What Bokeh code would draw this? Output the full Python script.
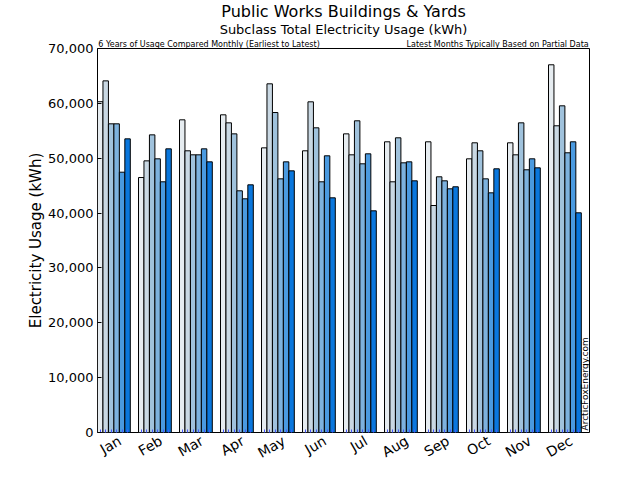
import math
from bokeh.plotting import figure
from bokeh.models import ColumnDataSource, FixedTicker, Label, LinearAxis, NumeralTickFormatter, Range1d, Title
from bokeh.embed import file_html
from bokeh.resources import INLINE

months = ["Jan", "Feb", "Mar", "Apr", "May", "Jun", "Jul", "Aug", "Sep", "Oct", "Nov", "Dec"]
year1 = [60300, 46480, 57000, 57910, 51890, 51350, 54440, 52990, 52990, 49890, 52810, 67030]
year2 = [64100, 49520, 51350, 56450, 63560, 60280, 50620, 45700, 41380, 52810, 50620, 55910]
year3 = [56270, 54260, 50620, 54440, 58330, 55540, 56820, 53720, 46610, 51350, 56450, 59550]
year4 = [56270, 49890, 50620, 44060, 46240, 45700, 48980, 49160, 45880, 46240, 47890, 50990]
year5 = [47450, 45700, 51710, 42600, 49340, 50440, 50800, 49340, 44420, 43690, 49890, 52990]
year6 = [53530, 51710, 49340, 45150, 47700, 42780, 40410, 45880, 44790, 48070, 48250, 40050]
series = [year1, year2, year3, year4, year5, year6]
colors = ["#e6ecf0", "#c9d8e3", "#a0c2dc", "#7db2de", "#4a9ae0", "#0a77dd"]
note_left = "6 Years of Usage Compared Monthly (Earliest to Latest)"
note_right = "Latest Months Typically Based on Partial Data"

FONT = "DejaVu Sans"
W, H = 640, 480
FL, FR, FT, FB = 97, 589, 48, 432  # frame edges in page pixels
p = figure(width=W, height=H, output_backend="svg", toolbar_location=None,
           x_range=Range1d(0, 12), y_range=Range1d(0, 70000),
           min_border_left=FL, min_border_right=W - FR, min_border_top=0, min_border_bottom=H - FB,
           styles={"position": "absolute", "top": "0px", "left": "0px"})

w = 0.8 / 6
for j, vals in enumerate(series):
    xs = [i + j * w + w / 2 for i in range(12)]
    src = ColumnDataSource(dict(x=xs, top=vals))
    p.vbar(x="x", top="top", bottom=0, width=w, source=src,
           fill_color=colors[j], line_color="black", line_width=1)

p.grid.visible = False
p.outline_line_color = "black"
p.outline_line_width = 1
p.background_fill_color = "white"
p.border_fill_color = "white"

xa = p.xaxis[0]
xa.ticker = FixedTicker(ticks=[i + 0.55 for i in range(12)],
                        minor_ticks=[i + j * w + w / 2 for i in range(12) for j in range(6)])
xa.major_label_overrides = {i + 0.55: m for i, m in enumerate(months)}
xa.major_label_orientation = math.radians(30)
xa.major_label_text_font = FONT
xa.major_label_text_font_size = "14px"
xa.major_label_text_color = "black"
xa.major_label_standoff = 7
xa.major_tick_in = 0
xa.major_tick_out = 0
xa.minor_tick_in = 3
xa.minor_tick_out = 0
xa.minor_tick_line_color = "#4455ff"
xa.axis_line_color = None

ya = p.yaxis[0]
ya.ticker = FixedTicker(ticks=list(range(0, 70001, 10000)))
ya.formatter = NumeralTickFormatter(format="0,0")
ya.major_label_text_font = FONT
ya.major_label_text_font_size = "13px"
ya.major_label_text_color = "black"
ya.major_label_standoff = 4
ya.major_tick_in = 4
ya.major_tick_out = 0
ya.minor_tick_line_color = None
ya.axis_line_color = None
ya.axis_label = "Electricity Usage (kWh)"
ya.axis_label_text_font = FONT
ya.axis_label_text_font_size = "15px"
ya.axis_label_text_font_style = "normal"
ya.axis_label_text_color = "black"
ya.axis_label_standoff = 0

# notes line just above the frame, as a label-only axis
note_axis = LinearAxis(ticker=FixedTicker(ticks=[2.72, 9.76]),
                       major_label_overrides={2.72: note_left, 9.76: note_right},
                       major_label_text_font=FONT, major_label_text_font_size="8px",
                       major_label_text_color="black", major_label_standoff=0,
                       major_tick_in=0, major_tick_out=0, minor_tick_line_color=None,
                       axis_line_color=None)
p.add_layout(note_axis, "above")
p.add_layout(Title(text="Subclass Total Electricity Usage (kWh)", align="center",
                   text_font=FONT, text_font_size="13px", text_font_style="normal",
                   text_color="black", standoff=0), "above")
p.title.text = "Public Works Buildings & Yards"
p.title.align = "center"
p.title.text_font = FONT
p.title.text_font_size = "16px"
p.title.text_font_style = "normal"
p.title.text_color = "black"
p.title.standoff = -2

p.add_layout(Label(x=FR - 5 - FL, y=2, x_units="screen", y_units="screen",
                   text="ArcticFoxEnergy.com", text_font=FONT, angle=math.pi / 2,
                   text_font_size="9px", text_align="left", text_baseline="middle",
                   text_color="black"))

open("out.html", "w").write(file_html(p, INLINE))
